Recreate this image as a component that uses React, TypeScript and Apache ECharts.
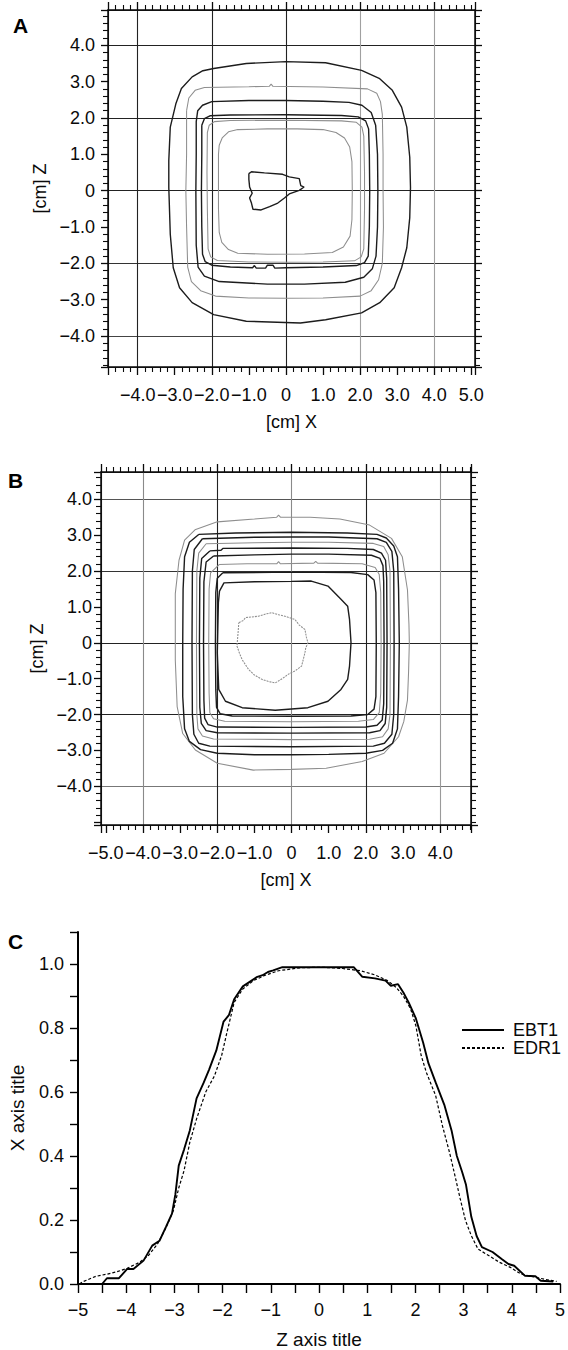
import React, { useEffect, useRef } from 'react';
import * as echarts from 'echarts';

type P = [number, number];

// ---------- Panel A isodose contours (x [cm], z [cm]) ----------
const A1_OUTER: P[] = [[-1.95,3.36],[-1.07,3.50],[0,3.55],[1.07,3.52],[2.04,3.31],[2.53,3.08],[2.87,2.76],[3.12,2.30],[3.26,1.75],[3.34,0.92],[3.36,0.09],[3.34,-0.74],[3.26,-1.57],[3.12,-2.12],[2.92,-2.67],[2.53,-3.08],[2.04,-3.36],[1.07,-3.55],[0.39,-3.64],[-1.07,-3.59],[-1.95,-3.41],[-2.53,-3.08],[-2.87,-2.67],[-3.04,-2.12],[-3.12,-1.20],[-3.16,0.09],[-3.16,0.83],[-3.12,1.75],[-2.97,2.39],[-2.82,2.81],[-2.53,3.13],[-2.24,3.30],[-1.95,3.36]];
const A2: P[] = [[-2.68,2.2],[-2.62,2.55],[-2.45,2.76],[-2.2,2.84],[-1.0,2.86],[-0.45,2.87],[-0.4,2.93],[-0.35,2.87],[1.0,2.85],[2.2,2.80],[2.45,2.68],[2.55,2.45],[2.6,2.1],[2.62,1.0],[2.62,0],[2.63,-1.0],[2.6,-2.0],[2.5,-2.45],[2.3,-2.75],[2.0,-2.90],[1.0,-2.95],[0,-2.96],[-1.0,-2.95],[-1.9,-2.9],[-2.3,-2.75],[-2.55,-2.5],[-2.65,-2.1],[-2.68,-1.0],[-2.70,0],[-2.68,1.0],[-2.68,2.2]];
const A3: P[] = [[-2.42,1.9],[-2.38,2.2],[-2.25,2.35],[-2.0,2.45],[-1.0,2.48],[0,2.48],[1.0,2.46],[1.7,2.43],[2.05,2.35],[2.3,2.15],[2.42,1.8],[2.47,1.0],[2.48,0],[2.47,-1.0],[2.43,-1.8],[2.33,-2.15],[2.1,-2.38],[1.6,-2.52],[0.5,-2.57],[-0.5,-2.57],[-1.8,-2.5],[-2.2,-2.35],[-2.37,-2.1],[-2.42,-1.5],[-2.43,0],[-2.42,1.0],[-2.42,1.9]];
const A4: P[] = [[-2.27,1.8],[-2.2,1.98],[-2.05,2.06],[-1.5,2.08],[0,2.09],[1.5,2.07],[1.95,2.03],[2.15,1.92],[2.23,1.7],[2.25,1.0],[2.26,0],[2.25,-1.0],[2.22,-1.8],[2.12,-1.98],[1.9,-2.06],[1.0,-2.1],[0,-2.12],[-0.3,-2.13],[-0.35,-2.05],[-0.5,-2.05],[-0.55,-2.13],[-0.8,-2.13],[-0.85,-2.06],[-0.9,-2.12],[-1.5,-2.1],[-2.0,-2.05],[-2.18,-1.95],[-2.25,-1.75],[-2.27,-1.0],[-2.28,0],[-2.27,1.0],[-2.27,1.8]];
const A5: P[] = [[-2.12,1.6],[-2.07,1.8],[-1.93,1.9],[-1.5,1.93],[0,1.94],[1.5,1.92],[1.9,1.88],[2.05,1.75],[2.1,1.5],[2.12,0.5],[2.12,-0.5],[2.1,-1.6],[2.03,-1.82],[1.85,-1.93],[1.0,-1.96],[0,-1.97],[-1.0,-1.96],[-1.85,-1.92],[-2.03,-1.82],[-2.1,-1.6],[-2.12,-0.5],[-2.13,0.5],[-2.12,1.6]];
const A6: P[] = [[-1.82,1.0],[-1.80,1.25],[-1.72,1.45],[-1.55,1.62],[-1.3,1.68],[-0.5,1.70],[0.3,1.70],[1.0,1.68],[1.35,1.60],[1.58,1.45],[1.72,1.2],[1.78,0.8],[1.79,0],[1.78,-0.8],[1.73,-1.25],[1.55,-1.55],[1.25,-1.70],[0.5,-1.74],[-0.5,-1.75],[-1.3,-1.72],[-1.55,-1.62],[-1.73,-1.42],[-1.80,-1.15],[-1.82,-0.5],[-1.82,0.3],[-1.82,1.0]];
const A7_CORE: P[] = [[-1.00,0.47],[-0.93,0.52],[-0.58,0.49],[-0.09,0.45],[0.09,0.38],[0.36,0.33],[0.40,0.14],[0.49,0.10],[0.36,0.01],[0.09,-0.09],[-0.04,-0.20],[-0.22,-0.34],[-0.44,-0.44],[-0.67,-0.53],[-0.89,-0.51],[-0.93,-0.34],[-0.98,-0.20],[-0.91,-0.07],[-0.98,0.10],[-1.00,0.31],[-1.00,0.47]];

// ---------- Panel B isodose contours ----------
const B1_OUTER: P[] = [[-2.0,3.37],[-1.0,3.45],[-0.4,3.50],[-0.35,3.56],[-0.3,3.50],[0.5,3.50],[1.3,3.45],[2.1,3.28],[2.69,2.91],[2.98,2.40],[3.12,1.47],[3.16,0.5],[3.17,0],[3.15,-0.8],[3.12,-1.6],[3.02,-2.2],[2.88,-2.62],[2.49,-3.08],[1.9,-3.31],[0.93,-3.50],[0,-3.53],[-1.03,-3.55],[-2.0,-3.36],[-2.59,-2.99],[-2.93,-2.53],[-3.08,-1.78],[-3.13,-0.48],[-3.13,1.37],[-3.03,2.30],[-2.88,2.86],[-2.6,3.15],[-2.0,3.37]];
const B2: P[] = [[-2.5,3.02],[-1.5,3.06],[0,3.08],[1.5,3.06],[2.3,3.02],[2.55,2.92],[2.75,2.7],[2.85,2.4],[2.88,1.5],[2.9,0],[2.88,-1.5],[2.85,-2.4],[2.72,-2.8],[2.45,-3.0],[2.0,-3.08],[1.0,-3.11],[0,-3.12],[-1.0,-3.12],[-2.0,-3.08],[-2.45,-2.98],[-2.75,-2.75],[-2.88,-2.4],[-2.93,-1.5],[-2.93,0],[-2.92,1.5],[-2.88,2.4],[-2.75,2.8],[-2.5,3.02]];
const B3: P[] = [[-2.4,2.9],[-1.0,2.94],[0,2.95],[1.0,2.95],[2.3,2.9],[2.55,2.8],[2.7,2.55],[2.75,2.0],[2.76,0],[2.75,-2.0],[2.7,-2.55],[2.5,-2.8],[2.2,-2.88],[0,-2.90],[-2.2,-2.88],[-2.5,-2.8],[-2.63,-2.55],[-2.67,-2.0],[-2.68,0],[-2.67,2.0],[-2.62,2.6],[-2.4,2.9]];
const B4: P[] = [[-2.3,2.76],[-1.0,2.79],[0,2.80],[1.0,2.80],[2.2,2.77],[2.48,2.68],[2.6,2.45],[2.65,2.0],[2.66,0],[2.65,-2.0],[2.6,-2.4],[2.45,-2.62],[2.1,-2.69],[0,-2.70],[-2.1,-2.68],[-2.4,-2.6],[-2.52,-2.4],[-2.55,-2.0],[-2.56,0],[-2.55,2.0],[-2.5,2.5],[-2.3,2.76]];
const B5: P[] = [[-2.2,2.56],[-1.9,2.58],[-1.85,2.63],[0,2.64],[1.5,2.63],[2.2,2.6],[2.42,2.5],[2.53,2.3],[2.56,1.8],[2.57,0],[2.56,-1.8],[2.52,-2.25],[2.38,-2.45],[2.1,-2.51],[0,-2.52],[-2.0,-2.51],[-2.3,-2.45],[-2.43,-2.25],[-2.47,-1.8],[-2.48,0],[-2.47,1.8],[-2.42,2.35],[-2.2,2.56]];
const B6: P[] = [[-2.1,2.42],[-1.0,2.45],[0,2.47],[1.0,2.47],[2.15,2.44],[2.38,2.35],[2.46,2.15],[2.48,1.7],[2.49,0],[2.48,-1.7],[2.44,-2.15],[2.3,-2.3],[2.0,-2.35],[0,-2.36],[-2.0,-2.35],[-2.25,-2.28],[-2.34,-2.1],[-2.36,-1.6],[-2.37,0],[-2.36,1.7],[-2.3,2.25],[-2.1,2.42]];
const B7: P[] = [[-1.95,2.18],[-1.2,2.2],[-0.4,2.2],[-0.35,2.26],[-0.3,2.2],[0.6,2.22],[0.65,2.27],[0.7,2.22],[1.9,2.2],[2.25,2.1],[2.36,1.9],[2.40,1.4],[2.41,0],[2.40,-1.4],[2.36,-1.95],[2.2,-2.14],[1.8,-2.19],[0,-2.2],[-1.8,-2.19],[-2.1,-2.12],[-2.2,-1.95],[-2.22,-1.4],[-2.23,0],[-2.22,1.5],[-2.18,1.95],[-1.95,2.18]];
const B8: P[] = [[-1.85,1.95],[0,1.97],[1.6,1.96],[2.05,1.9],[2.22,1.75],[2.27,1.4],[2.28,0],[2.27,-1.5],[2.22,-1.85],[2.05,-2.0],[1.6,-2.04],[0,-2.05],[-1.6,-2.04],[-1.92,-1.98],[-2.02,-1.8],[-2.04,-1.3],[-2.05,0],[-2.04,1.4],[-2.0,1.8],[-1.85,1.95]];
const B9: P[] = [[-1.94,1.44],[-1.82,1.67],[-1.0,1.70],[0,1.71],[0.53,1.72],[0.98,1.58],[1.33,1.21],[1.51,1.02],[1.56,0.65],[1.60,0],[1.56,-0.65],[1.51,-1.02],[1.33,-1.30],[0.98,-1.63],[0.44,-1.81],[-0.44,-1.88],[-1.33,-1.81],[-1.78,-1.63],[-1.96,-1.30],[-2.0,-0.28],[-1.97,1.12],[-1.94,1.44]];
const B10_CORE: P[] = [[-1.42,0.56],[-1.30,0.62],[-1.24,0.70],[-0.89,0.74],[-0.70,0.80],[-0.53,0.84],[-0.35,0.78],[-0.18,0.74],[0.09,0.65],[0.20,0.50],[0.36,0.37],[0.40,0.15],[0.44,0],[0.38,-0.15],[0.36,-0.28],[0.27,-0.65],[0.10,-0.78],[-0.09,-0.88],[-0.25,-1.0],[-0.44,-1.12],[-0.62,-1.08],[-0.8,-1.02],[-1.0,-0.90],[-1.16,-0.74],[-1.33,-0.47],[-1.40,-0.30],[-1.47,-0.09],[-1.44,0.28],[-1.42,0.56]];

// ---------- Panel C profiles ----------
const EBT1: P[] = [[-5,0],[-4.50,0],[-4.40,0.018],[-4.15,0.018],[-3.98,0.047],[-3.85,0.047],[-3.64,0.073],[-3.46,0.12],[-3.31,0.135],[-3.17,0.18],[-3.05,0.22],[-2.98,0.28],[-2.91,0.37],[-2.80,0.42],[-2.68,0.48],[-2.54,0.58],[-2.39,0.63],[-2.28,0.67],[-2.13,0.73],[-1.98,0.82],[-1.87,0.84],[-1.76,0.89],[-1.58,0.93],[-1.43,0.945],[-1.28,0.96],[-1.17,0.965],[-1.06,0.975],[-0.95,0.98],[-0.76,0.99],[0.72,0.99],[0.90,0.96],[1.16,0.955],[1.38,0.948],[1.49,0.932],[1.64,0.937],[1.75,0.911],[1.86,0.88],[2.01,0.83],[2.16,0.755],[2.27,0.69],[2.42,0.63],[2.60,0.56],[2.75,0.48],[2.86,0.40],[2.97,0.35],[3.05,0.31],[3.16,0.21],[3.27,0.15],[3.38,0.115],[3.60,0.10],[3.79,0.078],[3.93,0.0625],[4.05,0.057],[4.27,0.026],[4.49,0.024],[4.60,0.01],[4.86,0.008]];
const EDR1: P[] = [[-4.97,0],[-4.9,0.007],[-4.63,0.024],[-4.39,0.031],[-4.2,0.038],[-3.98,0.049],[-3.72,0.068],[-3.54,0.089],[-3.35,0.125],[-3.17,0.177],[-3.02,0.23],[-2.91,0.30],[-2.80,0.354],[-2.68,0.443],[-2.54,0.516],[-2.35,0.60],[-2.17,0.65],[-2.02,0.714],[-1.91,0.786],[-1.76,0.88],[-1.58,0.922],[-1.36,0.948],[-1.13,0.964],[-0.84,0.979],[-0.40,0.988],[0.05,0.99],[0.49,0.986],[0.86,0.979],[1.16,0.966],[1.42,0.948],[1.60,0.927],[1.75,0.90],[1.90,0.86],[2.01,0.807],[2.12,0.714],[2.23,0.66],[2.42,0.589],[2.56,0.495],[2.71,0.41],[2.82,0.339],[2.93,0.266],[3.04,0.198],[3.16,0.151],[3.30,0.109],[3.52,0.089],[3.74,0.068],[3.97,0.052],[4.19,0.031],[4.41,0.024],[4.70,0.014],[4.93,0.008]];

const LEGEND_NAMES = ['EBT1', 'EDR1'];

const FONT = '"Liberation Sans", Arial, Helvetica, sans-serif';
const INK = '#0a0a0a';
const DARK = '#1c1c1c';
const GRAY = '#8e8e8e';

const isInt = (v: number) => Math.abs(v - Math.round(v)) < 1e-6;
const cmLabel = (limit: number) => (v: number) => {
  if (!isInt(v) || Math.abs(v) > limit) return '';
  const r = Math.round(v);
  if (r === 0) return '0';
  return (r < 0 ? '\u2212' : '') + Math.abs(r).toFixed(1);
};

const labelStyle = { fontSize: 18, color: INK, fontFamily: FONT };
const titleStyle = { fontSize: 18, color: INK, fontFamily: FONT };

function boxX(grid: number, min: number, max: number, name: string, gridColors: string[]) {
  const bottom = {
    type: 'value', gridIndex: grid, position: 'bottom', min, max, minInterval: 1, maxInterval: 1,
    axisLine: { show: true, onZero: false, lineStyle: { color: INK, width: 1.5 } },
    axisTick: { show: true, inside: false, length: 8, lineStyle: { color: INK, width: 1.3 } },
    minorTick: { show: true, splitNumber: 5, length: 5, lineStyle: { color: INK, width: 1.1 } },
    axisLabel: { ...labelStyle, margin: 19, formatter: cmLabel(5.05) },
    splitLine: { show: false },
    name, nameLocation: 'middle', nameGap: 46, nameTextStyle: titleStyle,
  };
  const top = {
    type: 'value', gridIndex: grid, position: 'top', min, max, minInterval: 2, maxInterval: 2,
    axisLine: { show: true, onZero: false, lineStyle: { color: INK, width: 1.5 } },
    axisTick: { show: true, inside: false, length: 8, lineStyle: { color: INK, width: 1.3 } },
    minorTick: { show: true, splitNumber: 10, length: 5, lineStyle: { color: INK, width: 1.1 } },
    axisLabel: { show: false },
    splitLine: { show: true, lineStyle: { color: gridColors, width: 1.1 } },
  };
  return [bottom, top];
}

function boxY(grid: number, min: number, max: number, name: string, gridColors: string[], labelMargin: number, nameGap: number) {
  const left = {
    type: 'value', gridIndex: grid, position: 'left', min, max, minInterval: 1, maxInterval: 1,
    axisLine: { show: true, onZero: false, lineStyle: { color: INK, width: 1.5 } },
    axisTick: { show: true, inside: false, length: 7, lineStyle: { color: INK, width: 1.3 } },
    minorTick: { show: true, splitNumber: 5, length: 5, lineStyle: { color: INK, width: 1.1 } },
    axisLabel: { ...labelStyle, margin: labelMargin, formatter: cmLabel(4.5) },
    splitLine: { show: false },
    name, nameLocation: 'middle', nameGap, nameRotate: 90, nameTextStyle: titleStyle,
  };
  const right = {
    type: 'value', gridIndex: grid, position: 'right', min, max, minInterval: 2, maxInterval: 2,
    axisLine: { show: true, onZero: false, lineStyle: { color: INK, width: 1.5 } },
    axisTick: { show: true, inside: false, length: 7, lineStyle: { color: INK, width: 1.3 } },
    minorTick: { show: true, splitNumber: 10, length: 5, lineStyle: { color: INK, width: 1.1 } },
    axisLabel: { show: false },
    splitLine: { show: true, lineStyle: { color: gridColors, width: 1.1 } },
  };
  return [left, right];
}

function contour(data: P[], axis: number, dark: boolean, dashed = false) {
  return {
    type: 'line', xAxisIndex: axis, yAxisIndex: axis, data, symbol: 'none', showSymbol: false,
    silent: true, clip: true, z: 3,
    lineStyle: { color: dark ? DARK : GRAY, width: dark ? 1.4 : 1.05, type: dashed ? [2, 1] : 'solid' },
  };
}

const panelLetter = (text: string, left: number, top: number) => ({
  text, left, top, padding: 0,
  textStyle: { fontSize: 21, fontWeight: 'bold', color: '#000', fontFamily: FONT },
});

export default function App() {
  const ref = useRef<HTMLDivElement>(null);
  useEffect(() => {
    if (!ref.current) return;
    const chart = echarts.init(ref.current, null, { renderer: 'svg' });
    const [ax0, ax1] = boxX(0, -4.8, 5.1, '[cm] X', ['#222', '#222', '#222', '#222', '#a0a0a0', '#a0a0a0', '#222']);
    const [ay0, ay1] = boxY(0, -4.85, 4.97, '[cm] Z', ['#222', '#444', '#333', '#222', '#222', '#222', '#222'], 13, 52);
    const [bx0, bx1] = boxX(1, -5.13, 4.83, '[cm] X', ['#222', '#8a8a8a', '#222', '#8a8a8a', '#222', '#9a9a9a', '#222']);
    const [by0, by1] = boxY(1, -5.08, 4.76, '[cm] Z', ['#222', '#777', '#222', '#222', '#333', '#555', '#222'], 9, 51);

    const option: any = {
      animation: false,
      backgroundColor: '#fff',
      textStyle: { fontFamily: FONT },
      title: [panelLetter('A', 13, 15), panelLetter('B', 8, 470), panelLetter('C', 8, 931)],
      legend: {
        data: LEGEND_NAMES, orient: 'vertical', left: 461, top: 1021, padding: 0,
        itemWidth: 42, itemHeight: 10, itemGap: 0,
        itemStyle: { opacity: 0 },
        textStyle: { fontSize: 18, lineHeight: 17, color: INK, fontFamily: FONT, padding: [0, 0, 0, 4] },
      },
      grid: [
        { left: 108, top: 10, width: 367, height: 357 },
        { left: 101, top: 472, width: 370, height: 353 },
        { left: 71, top: 932, width: 491, height: 353 },
      ],
      xAxis: [
        ax0, ax1, bx0, bx1,
        {
          type: 'value', gridIndex: 2, position: 'bottom', min: -5, max: 5, interval: 1,
          axisLine: { show: true, onZero: false, lineStyle: { color: '#000', width: 2 } },
          axisTick: { show: true, inside: false, length: 9, lineStyle: { color: '#000', width: 1.4 } },
          minorTick: { show: true, splitNumber: 2, length: 9, lineStyle: { color: '#000', width: 1.4 } },
          axisLabel: {
            fontSize: 18, color: INK, fontFamily: FONT, margin: 17,
            formatter: (v: number) => (isInt(v) ? (v < 0 ? '\u2212' : '') + Math.abs(Math.round(v)) : ''),
          },
          splitLine: { show: false },
          name: 'Z axis title', nameLocation: 'middle', nameGap: 46,
          nameTextStyle: { fontSize: 19, color: INK, fontFamily: FONT },
        },
      ],
      yAxis: [
        ay0, ay1, by0, by1,
        {
          type: 'value', gridIndex: 2, position: 'left', min: 0, max: 1.1, interval: 0.2,
          axisLine: { show: true, onZero: false, lineStyle: { color: '#000', width: 2 } },
          axisTick: { show: true, inside: false, length: 8, lineStyle: { color: '#000', width: 1.4 } },
          minorTick: { show: true, splitNumber: 2, length: 8, lineStyle: { color: '#000', width: 1.4 } },
          axisLabel: {
            fontSize: 18, color: INK, fontFamily: FONT, margin: 14,
            formatter: (v: number) => (Math.abs(v * 5 - Math.round(v * 5)) < 1e-6 ? v.toFixed(1) : ''),
          },
          splitLine: { show: false },
          name: 'X axis title', nameLocation: 'middle', nameGap: 51, nameRotate: 90,
          nameTextStyle: { fontSize: 19, color: INK, fontFamily: FONT },
        },
      ],
      series: [
        contour(A1_OUTER, 0, true),
        contour(A2, 0, false),
        contour(A3, 0, true),
        contour(A4, 0, true),
        contour(A5, 0, false),
        contour(A6, 0, false),
        contour(A7_CORE, 0, true),
        contour(B1_OUTER, 2, false),
        contour(B2, 2, true),
        contour(B3, 2, true),
        contour(B4, 2, false),
        contour(B5, 2, true),
        contour(B6, 2, true),
        contour(B7, 2, false),
        contour(B8, 2, true),
        contour(B9, 2, true),
        contour(B10_CORE, 2, false, true),
        {
          name: 'EBT1', type: 'line', xAxisIndex: 4, yAxisIndex: 4, data: EBT1,
          symbol: 'none', showSymbol: false, silent: true, z: 4,
          lineStyle: { color: '#000', width: 1.9, type: 'solid' },
          itemStyle: { color: '#000' },
        },
        {
          name: 'EDR1', type: 'line', xAxisIndex: 4, yAxisIndex: 4, data: EDR1,
          symbol: 'none', showSymbol: false, silent: true, z: 4,
          lineStyle: { color: '#000', width: 1.2, type: [3, 2] },
          itemStyle: { color: '#000' },
        },
      ],
    };
    chart.setOption(option);
    return () => chart.dispose();
  }, []);

  return (
    <div
      ref={ref}
      style={{ position: 'absolute', left: 0, top: 0, width: 568, height: 1350, background: '#fff' }}
    />
  );
}
